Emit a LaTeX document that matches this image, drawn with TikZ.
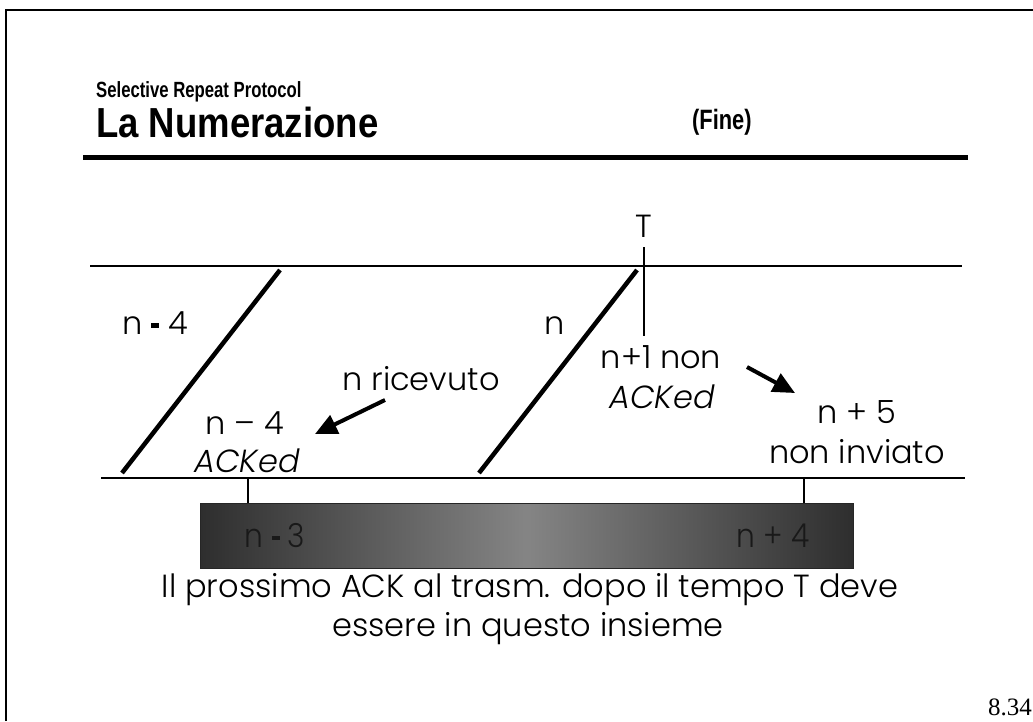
\documentclass[tikz,border=0pt]{standalone}
\usepackage{fontspec}
\setmainfont{Liberation Sans}
\newfontfamily\pop{Poppins}[UprightFont={* Light}, ItalicFont={* Light Italic}, BoldFont={* Medium}]
\newfontfamily\tms{Liberation Serif}
\usetikzlibrary{arrows.meta}
\newcommand{\heavydash}{\rule[0.2em]{0.26em}{0.14em}}
\tikzset{
  frame/.style={line width=2pt},
  rule/.style={line width=5pt},
  timeline/.style={line width=2.5pt},
  pkt/.style={line width=4.5pt},
  tick/.style={line width=2pt},
  lbl/.style={inner sep=0pt, font=\pop\fontsize{32}{38}\selectfont, align=center},
  barlbl/.style={inner sep=0pt, xscale=0.9, font=\pop\fontsize{33}{36}\selectfont, text=black!90},
  pointer/.style={line width=4pt, -{Triangle[length=22pt,width=20pt]}},
}
\begin{document}
\begin{tikzpicture}[x=1pt,y=-1pt]
\useasboundingbox (0,0) rectangle (1033,721);
\draw[frame] (6,721) -- (6,10) -- (1033,10);
% titles
\node[anchor=base west, inner sep=0pt, xscale=0.76] (sub) at (96,97) {\fontsize{22}{25}\selectfont\bfseries Selective Repeat Protocol};
\node[anchor=base west, inner sep=0pt, xscale=0.87] (title) at (96,137) {\fontsize{42}{48}\selectfont\bfseries La Numerazione};
\node[anchor=base west, inner sep=0pt, xscale=0.78] (fine) at (692,129) {\fontsize{28}{32}\selectfont\bfseries (Fine)};
\coordinate (r1) at (83,157); \coordinate (r2) at (968,157);
\draw[rule] (r1) -- (r2);
% time lines
\coordinate (u1) at (90,266); \coordinate (u2) at (962,266);
\coordinate (l1) at (101,478); \coordinate (l2) at (965,478);
\draw[timeline] (u1) -- (u2);
\draw[timeline] (l1) -- (l2);
% packets
\coordinate (p1b) at (122,473); \coordinate (p1t) at (280,270);
\coordinate (p2b) at (479,473); \coordinate (p2t) at (637,270);
\draw[pkt] (p1b) -- (p1t);
\draw[pkt] (p2b) -- (p2t);
% T marker
\coordinate (t1) at (644,247); \coordinate (t2) at (644,336);
\draw[tick] (t1) -- (t2);
\node[lbl, anchor=base] (T) at (644,237) {T};
% bar
\shade[left color=black!82, right color=black!82, middle color=black!48] (200,503) rectangle (853,568);
\draw[line width=1pt, black!85] (200,503) rectangle (853,568);
\coordinate (k1) at (248,478); \coordinate (k1b) at (248,503);
\coordinate (k2) at (804,478); \coordinate (k2b) at (804,503);
\draw[tick] (k1) -- (k1b);
\draw[tick] (k2) -- (k2b);
\node[barlbl, anchor=base] (b1) at (275,547) {n \heavydash{} 3};
\node[barlbl, anchor=base] (b2) at (773,547) {n + 4};
% labels
\node[lbl, anchor=base] (nm4) at (155,334) {n \heavydash{} 4};
\node[lbl, anchor=base] (n) at (555,334) {n};
\node[lbl, anchor=base] (ric) at (421,390) {n ricevuto};
\node[lbl, anchor=base] (nm4b) at (245,434) {n – 4};
\node[lbl, anchor=base] (ack1) at (247,472) {\itshape ACKed};
\node[lbl, anchor=base] (np1) at (661,368) {n+1 non};
\node[lbl, anchor=base] (ack2) at (662,408) {\itshape ACKed};
\node[lbl, anchor=base] (np5) at (857,423) {n + 5};
\node[lbl, anchor=base] (ninv) at (857,463) {non inviato};
\coordinate (a1s) at (385,400); \coordinate (a1e) at (315,434);
\coordinate (a2s) at (747,367); \coordinate (a2e) at (795,393);
\draw[pointer] (a1s) -- (a1e);
\draw[pointer] (a2s) -- (a2e);
% bottom text
\node[lbl, anchor=base] (cap1) at (530,597) {Il prossimo ACK al trasm. dopo il tempo T deve};
\node[lbl, anchor=base] (cap2) at (528,636) {essere in questo insieme};
\node[anchor=base, inner sep=0pt] (pg) at (1010,715) {\tms\fontsize{25}{28}\selectfont 8.34};
\end{tikzpicture}
\end{document}
